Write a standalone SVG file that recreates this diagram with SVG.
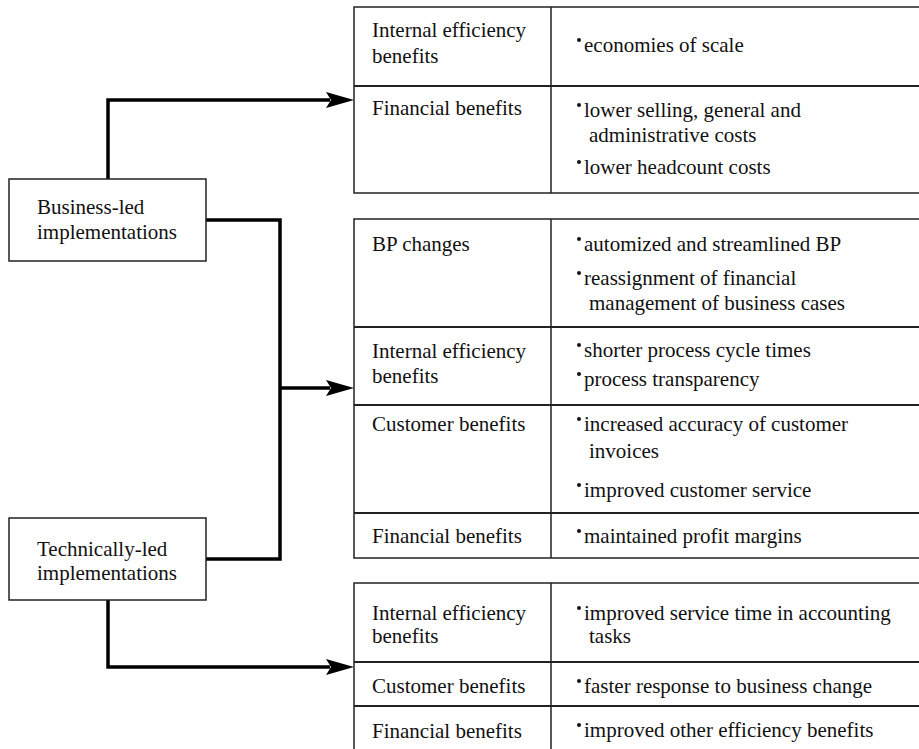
<svg xmlns="http://www.w3.org/2000/svg" width="919" height="749" viewBox="0 0 919 749" font-family="'Liberation Serif', 'Times New Roman', Times, 'DejaVu Serif', serif" font-size="21">
<style>
text{font-family:'Liberation Serif','Times New Roman',Times,'DejaVu Serif',serif;font-size:21px;fill:#111}
.box{fill:#fff;stroke:#222;stroke-width:1.5}
.ln{stroke:#222;stroke-width:2;fill:none}
.vl{stroke:#222;stroke-width:1.5;fill:none}
.con{stroke:#000;stroke-width:3.5;fill:none}
.ah{fill:#000}
.b{fill:#111}
</style>
<rect width="919" height="749" fill="#fff"/>
<g id="connectors">
<polyline class="con" points="108,179 108,100 330,100"/>
<path class="ah" d="M354,100 L326,92 L331,100 L326,108 Z"/>
<polyline class="con" points="206,220 280,220 280,559 206,559"/>
<line class="con" x1="280" y1="388" x2="330" y2="388"/>
<path class="ah" d="M354,388 L326,380 L331,388 L326,396 Z"/>
<polyline class="con" points="108,600 108,667 330,667"/>
<path class="ah" d="M354,667 L326,659 L331,667 L326,675 Z"/>
</g>
<g id="business-led">
<rect class="box" x="9" y="179" width="197" height="82"/>
<text x="37" y="214">Business-led</text>
<text x="37" y="239">implementations</text>
</g>
<g id="technically-led">
<rect class="box" x="9" y="518" width="197" height="82"/>
<text x="37" y="556">Technically-led</text>
<text x="37" y="580">implementations</text>
</g>
<g id="table-business">
<rect class="box" x="354" y="7" width="580" height="186"/>
<line class="ln" x1="354" y1="86" x2="919" y2="86"/>
<line class="vl" x1="551" y1="7" x2="551" y2="193"/>
<text x="372" y="37">Internal efficiency</text>
<text x="372" y="63">benefits</text>
<circle class="b" cx="579" cy="40" r="2"/><text x="584" y="52">economies of scale</text>
<text x="372" y="115">Financial benefits</text>
<circle class="b" cx="579" cy="105" r="2"/><text x="584" y="117">lower selling, general and</text>
<text x="589" y="142">administrative costs</text>
<circle class="b" cx="579" cy="162" r="2"/><text x="584" y="174">lower headcount costs</text>
</g>
<g id="table-both">
<rect class="box" x="354" y="219" width="580" height="339"/>
<line class="ln" x1="354" y1="327" x2="919" y2="327"/>
<line class="ln" x1="354" y1="405" x2="919" y2="405"/>
<line class="ln" x1="354" y1="513" x2="919" y2="513"/>
<line class="vl" x1="551" y1="219" x2="551" y2="558"/>
<text x="372" y="251">BP changes</text>
<circle class="b" cx="579" cy="239" r="2"/><text x="584" y="251">automized and streamlined BP</text>
<circle class="b" cx="579" cy="273" r="2"/><text x="584" y="285">reassignment of financial</text>
<text x="589" y="310">management of business cases</text>
<text x="372" y="358">Internal efficiency</text>
<text x="372" y="383">benefits</text>
<circle class="b" cx="579" cy="345" r="2"/><text x="584" y="357">shorter process cycle times</text>
<circle class="b" cx="579" cy="374" r="2"/><text x="584" y="386">process transparency</text>
<text x="372" y="431">Customer benefits</text>
<circle class="b" cx="579" cy="419" r="2"/><text x="584" y="431">increased accuracy of customer</text>
<text x="589" y="458">invoices</text>
<circle class="b" cx="579" cy="485" r="2"/><text x="584" y="497">improved customer service</text>
<text x="372" y="543">Financial benefits</text>
<circle class="b" cx="579" cy="531" r="2"/><text x="584" y="543">maintained profit margins</text>
</g>
<g id="table-technical">
<rect class="box" x="354" y="583" width="580" height="190"/>
<line class="ln" x1="354" y1="662" x2="919" y2="662"/>
<line class="ln" x1="354" y1="706" x2="919" y2="706"/>
<line class="vl" x1="551" y1="583" x2="551" y2="760"/>
<text x="372" y="620">Internal efficiency</text>
<text x="372" y="643">benefits</text>
<circle class="b" cx="579" cy="608" r="2"/><text x="584" y="620">improved service time in accounting</text>
<text x="589" y="643">tasks</text>
<text x="372" y="693">Customer benefits</text>
<circle class="b" cx="579" cy="681" r="2"/><text x="584" y="693">faster response to business change</text>
<text x="372" y="738">Financial benefits</text>
<circle class="b" cx="579" cy="725" r="2"/><text x="584" y="737">improved other efficiency benefits</text>
</g>
</svg>
